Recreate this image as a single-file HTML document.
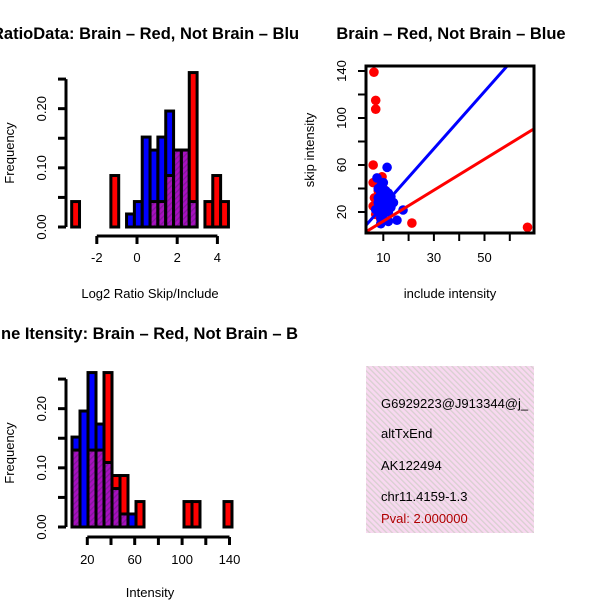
<!DOCTYPE html>
<html><head><meta charset="utf-8"><style>
html,body{margin:0;padding:0;background:#fff}
svg text{font-family:"Liberation Sans",sans-serif}
</style></head><body>
<svg id="c" width="600" height="600" xmlns="http://www.w3.org/2000/svg">
<defs>
<pattern id="purp" patternUnits="userSpaceOnUse" width="4" height="4" patternTransform="rotate(45)">
<rect width="4" height="4" fill="#a810c0"/><rect width="1.3" height="4" fill="#801898"/></pattern>
<pattern id="pink" patternUnits="userSpaceOnUse" width="4" height="4" patternTransform="rotate(-45)">
<rect width="4" height="4" fill="#f8d8f0"/><rect width="1.3" height="4" fill="#d8d0d0"/></pattern>
</defs>
<g id="h1"></g>
<g id="h2"></g>
<g id="sc"></g>
<g>
<rect x="366" y="366" width="168" height="167" fill="url(#pink)"/>
<text x="381" y="408" font-size="13">G6929223@J913344@j_</text>
<text x="381" y="438" font-size="13">altTxEnd</text>
<text x="381" y="470" font-size="13">AK122494</text>
<text x="381" y="501" font-size="13">chr11.4159-1.3</text>
<text x="381" y="523" font-size="13" fill="#b00000">Pval: 2.000000</text>
</g>
</svg>
<script>
// Ratio histogram data
const h1Start = -3.25, h1Width = 0.39;
const h1Red  = [0.043,0,0,0,0,0.087,0,0,0,0,0.043,0.043,0.087,0.130,0.130,0.261,0,0.043,0.087,0.043];
const h1Blue = [0,0,0,0,0,0,0,0.022,0.043,0.152,0.130,0.152,0.196,0.130,0.130,0.043,0,0,0,0];
const h1XTicks = [-2,0,2,4];
const yTicks = [0,0.05,0.10,0.15,0.20,0.25];
const yTickLabels = ["0.00","","0.10","","0.20",""];
// Intensity histogram data
const h2Start = 7.1, h2Width = 6.75;
const h2Red  = [0.130,0,0.130,0.130,0.261,0.087,0.087,0,0.043,0,0,0,0,0,0.043,0.043,0,0,0,0.043];
const h2Blue = [0.152,0.196,0.261,0.174,0.109,0.065,0.022,0.022,0,0,0,0,0,0,0,0,0,0,0,0];
const h2XTicks = [20,40,60,80,100,120,140];
const h2XLabels = ["20","","60","","100","","140"];
// Scatter data
const redX = [6.3,7,7,6,21.3,67,9.5,6,6.5,6,12,12,11,8,7,9,13,10];
const redY = [139,115,107.5,60,10.6,7,50,45,32,25,33,26,21,38,18,14,30,40];
const blueX = [11.5,7.5,17.8,15.4,8,9,10,11,12,9,8,10,13,7,11,9,12,14,10,8,9,11,13,10,12,8];
const blueY = [58,49,21.7,13,40,35,30,25,20,15,28,45,33,22,38,10,12,28,18,32,42,30,24,26,36,20];
const blueLine = [1.0, 2.43];
const redLine = [-1.0, 1.32];
const scXTicks = [10,20,30,40,50,60];
const scXLabels = ["10","","30","","50",""];
const scYTicks = [20,40,60,80,100,120,140];
const scYLabels = ["20","","60","","100","","140"];

const NS="http://www.w3.org/2000/svg";
function mk(p,tag,a,txt){const e=document.createElementNS(NS,tag);for(const k in a)e.setAttribute(k,a[k]);if(txt!=null)e.textContent=txt;p.appendChild(e);return e;}

function hist(g,start,w,red,blue,xpx,ypx,y0,ticks,labels,xlabel,title,titleX,titleY,axisY,lblY,xlabY){
  red.forEach((r,i)=>{
    const b=blue[i]; if(r===0&&b===0)return;
    const x0=xpx(start+i*w), x1=xpx(start+(i+1)*w);
    const hi=Math.max(r,b), lo=Math.min(r,b);
    const top=mk(g,'rect',{x:x0,y:ypx(hi),width:x1-x0,height:y0-ypx(hi),fill:r>=b?'#ff0000':'#0000ff',stroke:'#000','stroke-width':3});
    
    
    if(lo>0){const p=mk(g,'rect',{x:x0,y:ypx(lo),width:x1-x0,height:y0-ypx(lo),fill:'url(#purp)',stroke:'#000','stroke-width':3});
      
      }
  });
  mk(g,'line',{x1:66,x2:66,y1:ypx(0),y2:ypx(0.25),stroke:'#000','stroke-width':3});
  yTicks.forEach((t,i)=>{mk(g,'line',{x1:58,x2:66,y1:ypx(t),y2:ypx(t),stroke:'#000','stroke-width':3});
    if(yTickLabels[i]){const tx=mk(g,'text',{x:46,y:ypx(t),'font-size':13,'text-anchor':'middle',transform:`rotate(-90 46 ${ypx(t)})`},yTickLabels[i]);
      
      }});
  const yl=mk(g,'text',{x:14,y:(ypx(0)+ypx(0.25))/2,'font-size':13,'text-anchor':'middle',transform:`rotate(-90 14 ${(ypx(0)+ypx(0.25))/2})`},'Frequency');
  
  
  mk(g,'line',{x1:xpx(ticks[0]),x2:xpx(ticks[ticks.length-1]),y1:axisY,y2:axisY,stroke:'#000','stroke-width':3});
  ticks.forEach((t,i)=>{mk(g,'line',{x1:xpx(t),x2:xpx(t),y1:axisY,y2:axisY+8,stroke:'#000','stroke-width':3});
    if(labels[i]){const tx=mk(g,'text',{x:xpx(t),y:lblY,'font-size':13,'text-anchor':'middle'},labels[i]);
      
      }});
  const xt=mk(g,'text',{x:150,y:xlabY,'font-size':13,'text-anchor':'middle'},xlabel);
  
  
  const tt=mk(g,'text',{x:titleX,y:titleY,'font-size':16.5,'font-weight':'bold'},title);
  
  
}
const g1=document.getElementById('h1');
hist(g1,h1Start,h1Width,h1Red,h1Blue,v=>137+v*20.1,v=>227-v*591.7,227,h1XTicks,["-2","0","2","4"],'Log2 Ratio Skip/Include','RatioData: Brain – Red, Not Brain – Blu',-8,39,236,262,298);
const g2=document.getElementById('h2');
hist(g2,h2Start,h2Width,h2Red,h2Blue,v=>87.3+(v-20)*1.185,v=>527-v*591.7,527,h2XTicks,h2XLabels,'Intensity','ne Itensity: Brain – Red, Not Brain – B',1,339,537,564,597);

const sc=document.getElementById('sc');
const sx=v=>383.3+(v-10)*2.53, sy=v=>212-(v-20)*1.175;
const cp=mk(sc,'clipPath',{id:'scClip'});mk(cp,'rect',{x:366,y:66,width:168,height:167});
const pts=mk(sc,'g',{'clip-path':'url(#scClip)'});
redX.forEach((x,i)=>{const c=mk(pts,'circle',{cx:sx(x),cy:sy(redY[i]),r:4.8,fill:'#ff0000'});
  
  });
blueX.forEach((x,i)=>{const c=mk(pts,'circle',{cx:sx(x),cy:sy(blueY[i]),r:4.8,fill:'#0000ff'});
  
  });
const xa=3.2,xb=69.2;
const bl=mk(pts,'line',{x1:sx(xa),y1:sy(blueLine[0]+blueLine[1]*xa),x2:sx(xb),y2:sy(blueLine[0]+blueLine[1]*xb),stroke:'#0000ff','stroke-width':3});


const rl=mk(pts,'line',{x1:sx(xa),y1:sy(redLine[0]+redLine[1]*xa),x2:sx(xb),y2:sy(redLine[0]+redLine[1]*xb),stroke:'#ff0000','stroke-width':3});


const box=mk(sc,'rect',{x:366,y:66,width:168,height:167,fill:'none',stroke:'#000','stroke-width':3});


scXTicks.forEach((t,i)=>{mk(sc,'line',{x1:sx(t),x2:sx(t),y1:233,y2:241,stroke:'#000','stroke-width':2});
  if(scXLabels[i]){const tx=mk(sc,'text',{x:sx(t),y:262,'font-size':13,'text-anchor':'middle'},scXLabels[i]);
    
    }});
scYTicks.forEach((t,i)=>{mk(sc,'line',{x1:358,x2:366,y1:sy(t),y2:sy(t),stroke:'#000','stroke-width':2});
  if(scYLabels[i]){const tx=mk(sc,'text',{x:346,y:sy(t),'font-size':13,'text-anchor':'middle',transform:`rotate(-90 346 ${sy(t)})`},scYLabels[i]);
    
    }});
const sxl=mk(sc,'text',{x:450,y:298,'font-size':13,'text-anchor':'middle'},'include intensity');


const syl=mk(sc,'text',{x:314,y:150,'font-size':13,'text-anchor':'middle',transform:'rotate(-90 314 150)'},'skip intensity');


const st=mk(sc,'text',{x:451,y:39,'font-size':16.5,'font-weight':'bold','text-anchor':'middle'},'Brain – Red, Not Brain – Blue');


</script>
</body></html>
